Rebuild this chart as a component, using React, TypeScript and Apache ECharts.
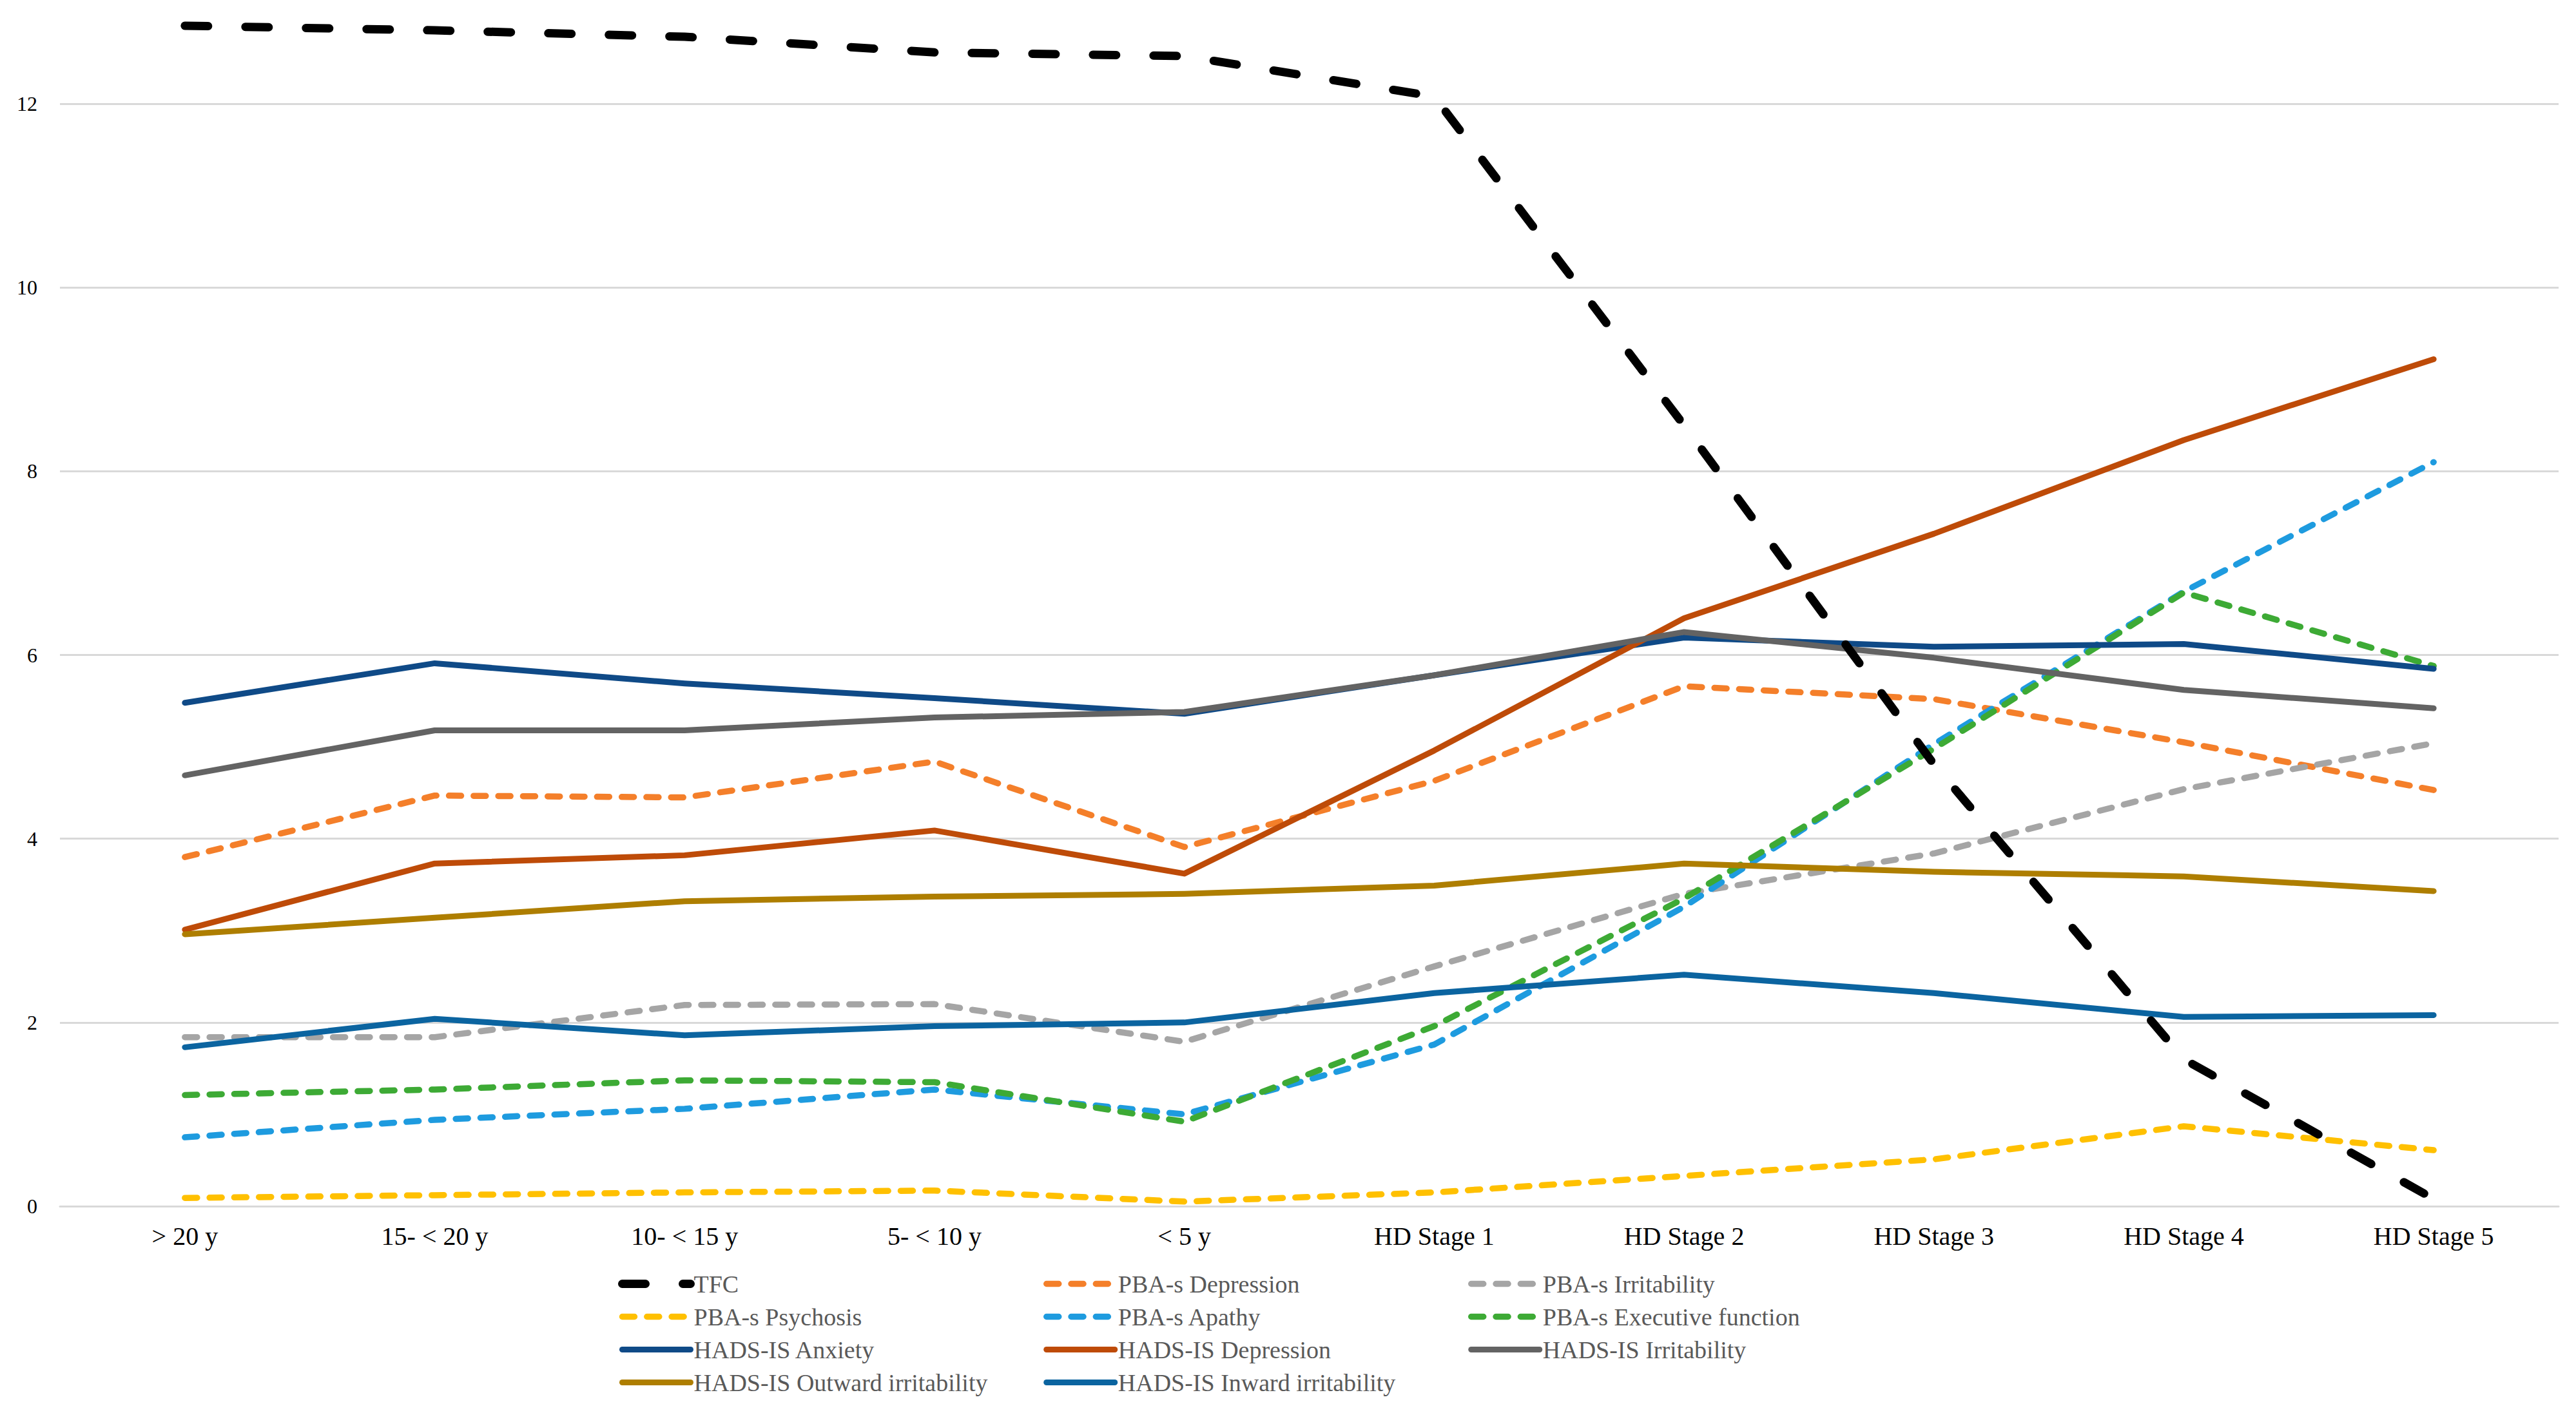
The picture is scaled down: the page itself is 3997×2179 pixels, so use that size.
import React, { useEffect, useRef } from "react";
import * as echarts from "echarts";

const categories = ["> 20 y", "15- < 20 y", "10- < 15 y", "5- < 10 y", "< 5 y", "HD Stage 1", "HD Stage 2", "HD Stage 3", "HD Stage 4", "HD Stage 5"];

const tfc = [12.85, 12.8, 12.73, 12.56, 12.52, 12.08, 8.5, 4.81, 1.6, 0.08];
const pbaDepression = [3.8, 4.47, 4.45, 4.84, 3.91, 4.63, 5.66, 5.52, 5.05, 4.53];
const pbaIrritability = [1.84, 1.84, 2.19, 2.2, 1.79, 2.61, 3.4, 3.84, 4.54, 5.04];
const pbaPsychosis = [0.09, 0.12, 0.15, 0.17, 0.05, 0.15, 0.33, 0.51, 0.87, 0.61];
const pbaApathy = [0.75, 0.94, 1.06, 1.27, 1.0, 1.76, 3.26, 5.03, 6.69, 8.1];
const pbaExecutive = [1.21, 1.27, 1.37, 1.35, 0.92, 1.96, 3.35, 4.98, 6.68, 5.88];
const hadsAnxiety = [5.48, 5.91, 5.69, 5.53, 5.36, 5.78, 6.19, 6.09, 6.12, 5.85];
const hadsDepression = [3.01, 3.73, 3.82, 4.09, 3.62, 4.96, 6.4, 7.32, 8.34, 9.22];
const hadsIrritability = [4.69, 5.18, 5.18, 5.32, 5.38, 5.78, 6.25, 5.97, 5.62, 5.42];
const hadsOutward = [2.96, 3.14, 3.32, 3.37, 3.4, 3.49, 3.73, 3.64, 3.59, 3.43];
const hadsInward = [1.73, 2.04, 1.86, 1.96, 2.0, 2.32, 2.52, 2.32, 2.06, 2.08];

const legendCol1 = ["TFC", "PBA-s Psychosis", "HADS-IS Anxiety", "HADS-IS Outward irritability"];
const legendCol2 = ["PBA-s Depression", "PBA-s Apathy", "HADS-IS Depression", "HADS-IS Inward irritability"];
const legendCol3 = ["PBA-s Irritability", "PBA-s Executive function", "HADS-IS Irritability"];

const FONT = "'Liberation Serif', 'DejaVu Serif', serif";

export default function App() {
  const ref = useRef<HTMLDivElement>(null);
  useEffect(() => {
    document.body.style.margin = "0";
    if (!ref.current) return;
    const chart = echarts.init(ref.current, null, { renderer: "svg" });
    const dot = [19, 19.3];
    const mk = (name: string, data: number[], color: string, dashed: boolean, z = 2) => ({
      name,
      type: "line",
      data,
      symbol: "none",
      z,
      lineStyle: {
        color,
        width: dashed ? 9.5 : 9,
        type: dashed ? dot : "solid",
        cap: "round",
        join: "round",
      },
      itemStyle: { color },
      emphasis: { disabled: true },
    });
    const legendBase = {
      orient: "vertical",
      top: 1973,
      itemGap: 12,
      itemWidth: 106,
      itemHeight: 14,
      padding: 0,
      selectedMode: false,
      itemStyle: { opacity: 0, borderWidth: 0 },
      lineStyle: { width: "inherit", type: "inherit", cap: "inherit", join: "inherit", color: "inherit" },
      textStyle: { fontFamily: FONT, fontSize: 38, lineHeight: 39, color: "#595959" },
    };
    chart.setOption({
      animation: false,
      backgroundColor: "#ffffff",
      grid: {
        left: 93,
        right: 27,
        top: -124,
        bottom: 307,
        containLabel: false,
        outerBoundsMode: "none",
      },
      xAxis: {
        type: "category",
        data: categories,
        boundaryGap: true,
        axisLine: { show: true, lineStyle: { color: "#d9d9d9", width: 3 } },
        axisTick: { show: false },
        axisLabel: { fontFamily: FONT, fontSize: 40, color: "#000000", margin: 26 },
        splitLine: { show: false },
      },
      yAxis: {
        type: "value",
        min: 0,
        max: 14,
        interval: 2,
        axisLine: { show: false },
        axisTick: { show: false },
        axisLabel: { fontFamily: FONT, fontSize: 32, color: "#000000", margin: 35, showMaxLabel: false },
        splitLine: { show: true, lineStyle: { color: "#d9d9d9", width: 3 } },
      },
      legend: [
        { ...legendBase, left: 959, data: legendCol1 },
        { ...legendBase, left: 1619, data: legendCol2 },
        { ...legendBase, left: 2278, data: legendCol3 },
      ],
      series: [
        mk("PBA-s Depression", pbaDepression, "#F47F2A", true),
        mk("PBA-s Irritability", pbaIrritability, "#A5A5A5", true),
        mk("PBA-s Psychosis", pbaPsychosis, "#FFC000", true),
        mk("PBA-s Apathy", pbaApathy, "#1E9BDF", true),
        mk("PBA-s Executive function", pbaExecutive, "#3DAA35", true),
        mk("HADS-IS Anxiety", hadsAnxiety, "#0F4A87", false),
        mk("HADS-IS Depression", hadsDepression, "#BE4B08", false),
        mk("HADS-IS Irritability", hadsIrritability, "#636363", false),
        mk("HADS-IS Outward irritability", hadsOutward, "#AE7E00", false),
        mk("HADS-IS Inward irritability", hadsInward, "#0B64A0", false),
        {
          name: "TFC",
          type: "line",
          data: tfc,
          symbol: "none",
          z: 5,
          lineStyle: { color: "#000000", width: 13, type: [36, 58], cap: "round", join: "round" },
          itemStyle: { color: "#000000" },
          emphasis: { disabled: true },
        },
      ],
    });
    return () => chart.dispose();
  }, []);
  return <div ref={ref} style={{ position: "fixed", left: 0, top: 0, width: 3997, height: 2179 }} />;
}
